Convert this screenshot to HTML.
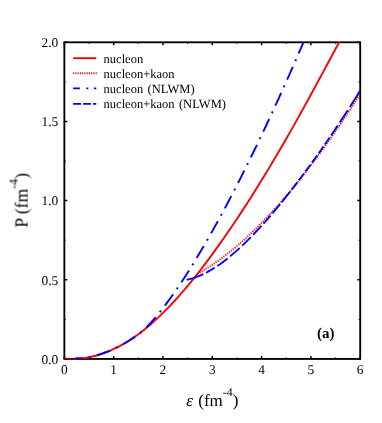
<!DOCTYPE html>
<html><head><meta charset="utf-8"><title>EOS</title>
<style>html,body{margin:0;padding:0;background:#fff;width:382px;height:423px;overflow:hidden;font-family:"Liberation Serif",serif}text{text-rendering:geometricPrecision}</style>
</head><body>
<svg width="382" height="423" viewBox="0 0 382 423" style="position:absolute;left:0;top:0">
<rect x="0" y="0" width="382" height="423" fill="#fff"/>
<rect x="64.35" y="42.30" width="295.85" height="316.65" fill="none" stroke="#000" stroke-width="1.85"/>
<path d="M64.35 358.95 v-2.90 M64.35 42.30 v2.90 M113.66 358.95 v-2.90 M113.66 42.30 v2.90 M162.97 358.95 v-2.90 M162.97 42.30 v2.90 M212.28 358.95 v-2.90 M212.28 42.30 v2.90 M261.58 358.95 v-2.90 M261.58 42.30 v2.90 M310.89 358.95 v-2.90 M310.89 42.30 v2.90 M360.20 358.95 v-2.90 M360.20 42.30 v2.90 M64.35 358.95 h2.90 M360.20 358.95 h-2.90 M64.35 279.79 h2.90 M360.20 279.79 h-2.90 M64.35 200.62 h2.90 M360.20 200.62 h-2.90 M64.35 121.46 h2.90 M360.20 121.46 h-2.90 M64.35 42.30 h2.90 M360.20 42.30 h-2.90" stroke="#000" stroke-width="1.5" fill="none"/>
<path d="M89.00 358.95 v-1.70 M89.00 42.30 v1.70 M138.31 358.95 v-1.70 M138.31 42.30 v1.70 M187.62 358.95 v-1.70 M187.62 42.30 v1.70 M236.93 358.95 v-1.70 M236.93 42.30 v1.70 M286.24 358.95 v-1.70 M286.24 42.30 v1.70 M335.55 358.95 v-1.70 M335.55 42.30 v1.70 M64.35 319.37 h1.70 M360.20 319.37 h-1.70 M64.35 240.21 h1.70 M360.20 240.21 h-1.70 M64.35 161.04 h1.70 M360.20 161.04 h-1.70 M64.35 81.88 h1.70 M360.20 81.88 h-1.70" stroke="#000" stroke-width="0.8" fill="none"/>
<clipPath id="c"><rect x="63.85" y="42.10" width="296.45" height="317.55"/></clipPath>
<g clip-path="url(#c)" fill="none" stroke-width="1.9">
<path d="M75.50 358.56 C76.25 358.53 78.50 358.51 80.00 358.41 C81.50 358.30 82.99 358.15 84.49 357.95 C85.99 357.75 87.49 357.50 88.99 357.21 C90.49 356.92 91.99 356.58 93.49 356.21 C94.99 355.83 96.48 355.42 97.98 354.97 C99.48 354.52 100.98 354.04 102.48 353.52 C103.98 353.00 105.48 352.45 106.98 351.87 C108.48 351.28 109.97 350.66 111.47 350.01 C112.97 349.35 114.47 348.66 115.97 347.93 C117.47 347.20 118.97 346.44 120.47 345.64 C121.96 344.84 123.46 344.00 124.96 343.12 C126.46 342.24 127.96 341.32 129.46 340.37 C130.96 339.41 132.46 338.42 133.96 337.38 C135.45 336.35 136.95 335.28 138.45 334.17 C139.95 333.06 141.45 331.92 142.95 330.73 C144.45 329.55 145.95 328.33 147.45 327.08 C148.94 325.83 150.44 324.54 151.94 323.22 C153.44 321.89 154.94 320.54 156.44 319.15 C157.94 317.76 159.44 316.34 160.94 314.89 C162.43 313.43 163.93 311.95 165.43 310.43 C166.93 308.92 168.43 307.37 169.93 305.80 C171.43 304.23 172.93 302.62 174.43 300.99 C175.92 299.36 177.42 297.70 178.92 296.01 C180.42 294.32 181.92 292.61 183.42 290.87 C184.92 289.12 186.42 287.35 187.92 285.56 C189.41 283.77 190.91 281.95 192.41 280.10 C193.91 278.26 195.41 276.39 196.91 274.49 C198.41 272.60 199.91 270.68 201.41 268.74 C202.90 266.80 204.40 264.84 205.90 262.85 C207.40 260.87 208.90 258.86 210.40 256.83 C211.90 254.80 213.40 252.75 214.89 250.68 C216.39 248.61 217.89 246.52 219.39 244.41 C220.89 242.30 222.39 240.17 223.89 238.02 C225.39 235.87 226.89 233.70 228.38 231.52 C229.88 229.33 231.38 227.13 232.88 224.91 C234.38 222.69 235.88 220.45 237.38 218.20 C238.88 215.94 240.38 213.67 241.87 211.38 C243.37 209.09 244.87 206.79 246.37 204.47 C247.87 202.14 249.37 199.80 250.87 197.45 C252.37 195.09 253.87 192.72 255.36 190.33 C256.86 187.94 258.36 185.53 259.86 183.11 C261.36 180.69 262.86 178.25 264.36 175.79 C265.86 173.34 267.36 170.87 268.85 168.38 C270.35 165.89 271.85 163.38 273.35 160.86 C274.85 158.34 276.35 155.81 277.85 153.25 C279.35 150.70 280.85 148.13 282.34 145.55 C283.84 142.96 285.34 140.36 286.84 137.74 C288.34 135.13 289.84 132.50 291.34 129.85 C292.84 127.20 294.34 124.54 295.83 121.86 C297.33 119.19 298.83 116.50 300.33 113.79 C301.83 111.09 303.33 108.38 304.83 105.66 C306.33 102.93 307.82 100.20 309.32 97.46 C310.82 94.72 312.32 91.97 313.82 89.21 C315.32 86.45 316.82 83.69 318.32 80.92 C319.82 78.15 321.31 75.38 322.81 72.60 C324.31 69.83 325.81 67.04 327.31 64.26 C328.81 61.48 330.31 58.70 331.81 55.91 C333.31 53.13 334.80 50.35 336.30 47.57 C337.80 44.78 340.05 40.62 340.80 39.23" stroke="#f00"/>
<path d="M64.35 358.75 L75.20 358.75" stroke="#f00" stroke-dasharray="1.15 1.25"/>
<path d="M197.35 273.95 C197.97 273.59 199.83 272.55 201.07 271.83 C202.31 271.11 203.55 270.36 204.79 269.60 C206.03 268.84 207.27 268.07 208.51 267.27 C209.75 266.47 210.99 265.66 212.23 264.83 C213.47 264.00 214.71 263.15 215.95 262.29 C217.19 261.42 218.43 260.54 219.67 259.64 C220.91 258.74 222.15 257.82 223.39 256.89 C224.62 255.95 225.86 255.00 227.10 254.03 C228.34 253.07 229.58 252.08 230.82 251.08 C232.06 250.08 233.30 249.06 234.54 248.03 C235.78 246.99 237.02 245.94 238.26 244.87 C239.50 243.81 240.74 242.72 241.98 241.63 C243.22 240.53 244.46 239.41 245.70 238.28 C246.94 237.15 248.18 236.00 249.42 234.84 C250.66 233.68 251.90 232.50 253.14 231.31 C254.38 230.11 255.62 228.90 256.86 227.68 C258.10 226.46 259.34 225.22 260.58 223.96 C261.82 222.71 263.06 221.44 264.30 220.15 C265.54 218.87 266.78 217.57 268.02 216.25 C269.26 214.94 270.50 213.61 271.74 212.27 C272.98 210.93 274.22 209.57 275.46 208.20 C276.70 206.82 277.94 205.44 279.18 204.04 C280.41 202.63 281.65 201.22 282.89 199.79 C284.13 198.36 285.37 196.92 286.61 195.46 C287.85 194.01 289.09 192.54 290.33 191.05 C291.57 189.57 292.81 188.07 294.05 186.56 C295.29 185.05 296.53 183.52 297.77 181.99 C299.01 180.45 300.25 178.90 301.49 177.33 C302.73 175.77 303.97 174.19 305.21 172.60 C306.45 171.01 307.69 169.41 308.93 167.80 C310.17 166.18 311.41 164.55 312.65 162.91 C313.89 161.27 315.13 159.62 316.37 157.96 C317.61 156.29 318.85 154.61 320.09 152.92 C321.33 151.24 322.57 149.53 323.81 147.82 C325.05 146.11 326.29 144.38 327.53 142.64 C328.77 140.91 330.01 139.16 331.25 137.40 C332.49 135.64 333.72 133.87 334.96 132.08 C336.20 130.30 337.44 128.51 338.68 126.70 C339.92 124.90 341.16 123.08 342.40 121.25 C343.64 119.42 344.88 117.58 346.12 115.73 C347.36 113.89 348.60 112.03 349.84 110.15 C351.08 108.28 352.32 106.40 353.56 104.51 C354.80 102.62 356.04 100.72 357.28 98.80 C358.52 96.89 360.38 94.00 361.00 93.04" stroke="#f00" stroke-dasharray="1.15 1.25"/>
<path d="M75.50 358.56 C76.15 358.54 78.10 358.52 79.39 358.45 C80.69 358.37 81.99 358.25 83.29 358.10 C84.58 357.95 85.88 357.76 87.18 357.54 C88.48 357.32 89.78 357.06 91.07 356.77 C92.37 356.49 93.67 356.17 94.97 355.82 C96.26 355.48 97.56 355.10 98.86 354.70 C100.16 354.30 101.45 353.88 102.75 353.43 C104.05 352.98 105.35 352.50 106.65 352.00 C107.94 351.50 109.24 350.97 110.54 350.41 C111.84 349.86 113.13 349.28 114.43 348.67 C115.73 348.06 117.03 347.42 118.33 346.76 C119.62 346.09 120.92 345.40 122.22 344.68 C123.52 343.96 124.81 343.22 126.11 342.44 C127.41 341.66 128.71 340.85 130.01 340.02 C131.30 339.18 132.60 338.32 133.90 337.42 C135.20 336.53 136.49 335.61 137.79 334.66 C139.09 333.71 140.39 332.78 141.68 331.72 C142.98 330.67 144.28 329.57 145.58 328.32 C146.88 327.08 148.17 325.67 149.47 324.26 C150.77 322.85 152.07 321.39 153.36 319.89 C154.66 318.39 155.96 316.85 157.26 315.27 C158.56 313.69 159.85 312.08 161.15 310.43 C162.45 308.78 163.75 307.10 165.04 305.38 C166.34 303.67 167.64 301.92 168.94 300.14 C170.24 298.37 171.53 296.56 172.83 294.73 C174.13 292.89 175.43 291.03 176.72 289.14 C178.02 287.25 179.32 285.33 180.62 283.38 C181.91 281.44 183.21 279.47 184.51 277.47 C185.81 275.48 187.11 273.45 188.40 271.41 C189.70 269.36 191.00 267.29 192.30 265.20 C193.59 263.11 194.89 260.99 196.19 258.85 C197.49 256.71 198.79 254.55 200.08 252.36 C201.38 250.18 202.68 247.97 203.98 245.75 C205.27 243.52 206.57 241.27 207.87 239.00 C209.17 236.74 210.46 234.45 211.76 232.14 C213.06 229.83 214.36 227.51 215.66 225.16 C216.95 222.81 218.25 220.45 219.55 218.07 C220.85 215.68 222.14 213.28 223.44 210.87 C224.74 208.45 226.04 206.01 227.34 203.56 C228.63 201.11 229.93 198.64 231.23 196.16 C232.53 193.67 233.82 191.17 235.12 188.65 C236.42 186.14 237.72 183.60 239.02 181.06 C240.31 178.51 241.61 175.94 242.91 173.36 C244.21 170.78 245.50 168.19 246.80 165.58 C248.10 162.97 249.40 160.34 250.69 157.70 C251.99 155.06 253.29 152.40 254.59 149.73 C255.89 147.06 257.18 144.37 258.48 141.67 C259.78 138.97 261.08 136.25 262.37 133.52 C263.67 130.79 264.97 128.05 266.27 125.28 C267.57 122.52 268.86 119.75 270.16 116.96 C271.46 114.17 272.76 111.36 274.05 108.55 C275.35 105.73 276.65 102.89 277.95 100.05 C279.25 97.20 280.54 94.34 281.84 91.46 C283.14 88.59 284.44 85.70 285.73 82.79 C287.03 79.89 288.33 76.97 289.63 74.04 C290.92 71.11 292.22 68.16 293.52 65.20 C294.82 62.25 296.12 59.27 297.41 56.29 C298.71 53.31 300.01 50.31 301.31 47.31 C302.60 44.30 304.55 39.77 305.20 38.26" stroke="#00f" stroke-dasharray="14 6.3 2 6.3" stroke-dashoffset="6.8"/>
<path d="M186.70 279.71 C187.36 279.56 189.34 279.15 190.66 278.80 C191.98 278.45 193.30 278.05 194.62 277.61 C195.94 277.17 197.26 276.68 198.58 276.15 C199.90 275.62 201.22 275.05 202.55 274.44 C203.87 273.82 205.19 273.17 206.51 272.48 C207.83 271.78 209.15 271.05 210.47 270.29 C211.79 269.52 213.11 268.71 214.43 267.87 C215.75 267.03 217.07 266.16 218.39 265.25 C219.71 264.34 221.03 263.40 222.35 262.43 C223.67 261.46 224.99 260.46 226.31 259.42 C227.63 258.39 228.95 257.33 230.27 256.23 C231.60 255.14 232.92 254.02 234.24 252.88 C235.56 251.73 236.88 250.56 238.20 249.36 C239.52 248.16 240.84 246.93 242.16 245.68 C243.48 244.44 244.80 243.16 246.12 241.87 C247.44 240.57 248.76 239.25 250.08 237.92 C251.40 236.58 252.72 235.21 254.04 233.83 C255.36 232.45 256.68 231.05 258.00 229.63 C259.32 228.20 260.65 226.76 261.97 225.30 C263.29 223.84 264.61 222.37 265.93 220.87 C267.25 219.37 268.57 217.86 269.89 216.33 C271.21 214.80 272.53 213.25 273.85 211.69 C275.17 210.13 276.49 208.55 277.81 206.96 C279.13 205.36 280.45 203.76 281.77 202.13 C283.09 200.51 284.41 198.87 285.73 197.22 C287.05 195.57 288.38 193.90 289.70 192.22 C291.02 190.54 292.34 188.85 293.66 187.14 C294.98 185.44 296.30 183.72 297.62 181.99 C298.94 180.25 300.26 178.51 301.58 176.75 C302.90 174.99 304.22 173.22 305.54 171.44 C306.86 169.66 308.18 167.87 309.50 166.06 C310.82 164.25 312.14 162.44 313.46 160.61 C314.78 158.78 316.10 156.93 317.42 155.08 C318.75 153.23 320.07 151.36 321.39 149.48 C322.71 147.60 324.03 145.71 325.35 143.81 C326.67 141.91 327.99 139.99 329.31 138.06 C330.63 136.14 331.95 134.20 333.27 132.24 C334.59 130.29 335.91 128.33 337.23 126.35 C338.55 124.37 339.87 122.38 341.19 120.37 C342.51 118.37 343.83 116.35 345.15 114.32 C346.47 112.29 347.80 110.24 349.12 108.18 C350.44 106.12 351.76 104.04 353.08 101.95 C354.40 99.86 355.72 97.76 357.04 95.63 C358.36 93.51 360.34 90.29 361.00 89.22" stroke="#00f" stroke-dasharray="17.6 3.0 9.9 3.3 12.8 3.4 12.5 3.5 12.0 3.4 12.1 3.2 10.5 3.0 11.9 2.8 13.3 2.6 9.2 2.5 8.5 2.5 8.5 2.5 9.0 2.5 8.3 2.5 8.3 2.8 11.8 3.6 14.8 3.8 100.0 0.0"/>
</g>
<filter id="g" x="0" y="0" width="382" height="423" filterUnits="userSpaceOnUse" color-interpolation-filters="sRGB"><feColorMatrix type="saturate" values="0"/></filter>
<g filter="url(#g)">
<g font-family="Liberation Serif, serif" font-size="13.4px" fill="#000">
<text x="64.35" y="374.2" text-anchor="middle">0</text>
<text x="113.66" y="374.2" text-anchor="middle">1</text>
<text x="162.97" y="374.2" text-anchor="middle">2</text>
<text x="212.28" y="374.2" text-anchor="middle">3</text>
<text x="261.58" y="374.2" text-anchor="middle">4</text>
<text x="310.89" y="374.2" text-anchor="middle">5</text>
<text x="360.20" y="374.2" text-anchor="middle">6</text>
<text x="58.3" y="363.75" text-anchor="end">0.0</text>
<text x="58.3" y="284.59" text-anchor="end">0.5</text>
<text x="58.3" y="205.43" text-anchor="end">1.0</text>
<text x="58.3" y="126.26" text-anchor="end">1.5</text>
<text x="58.3" y="47.10" text-anchor="end">2.0</text>
</g>
</g>
<g fill="none" stroke-width="1.9">
<path d="M73.1 58.2 H96.3" stroke="#f00"/>
<path d="M73.1 73.3 H96.7" stroke="#f00" stroke-dasharray="1.1 1.15"/>
<path d="M73.1 88.4 H96.3" stroke="#00f" stroke-dasharray="6.8 6.4 2 5.7 14"/>
<path d="M73.1 103.9 H96.3" stroke="#00f" stroke-dasharray="7.9 2.1"/>
</g>
<g filter="url(#g)">
<g font-family="Liberation Serif, serif" font-size="12.5px" word-spacing="1.3" fill="#000">
<text x="103.6" y="62.70">nucleon</text>
<text x="103.6" y="77.75">nucleon+kaon</text>
<text x="103.6" y="92.80">nucleon (NLWM)</text>
<text x="103.6" y="107.85">nucleon+kaon (NLWM)</text>
</g>
<text x="325.85" y="337.8" font-family="Liberation Serif, serif" font-weight="bold" font-size="15px" text-anchor="middle">(a)</text>
<text x="186.2" y="406.2" font-family="Liberation Serif, serif" font-size="17px"><tspan font-style="italic">ε</tspan><tspan dx="5.4">(fm</tspan><tspan font-size="11.8px" dy="-10.2">-4</tspan><tspan dy="10.2">)</tspan></text>
<text transform="translate(27.85 227.6) rotate(-90) scale(1 1.06)" font-family="Liberation Serif, serif" font-size="17.5px">P<tspan dx="3.8">(fm</tspan><tspan font-size="11.8px" dy="-9.5">-4</tspan><tspan dy="9.5">)</tspan></text>
</g>
</svg>
</body></html>
